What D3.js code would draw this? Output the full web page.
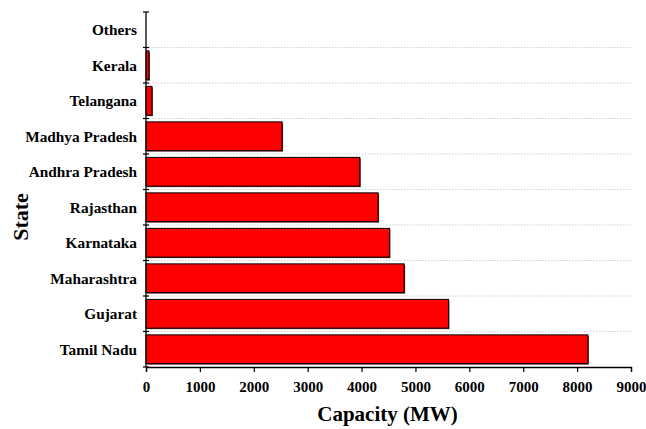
<!DOCTYPE html>
<html>
<head>
<meta charset="utf-8">
<script src="https://cdn.jsdelivr.net/npm/d3@7"></script>
<style>
  body { margin: 0; background: #fff; }
  svg text { font-family: "Liberation Serif", "Times New Roman", serif; font-weight: bold; fill: #000; }
</style>
</head>
<body>
<svg></svg>
<script>
// states from top to bottom, capacity in MW
const states = ["Others", "Kerala", "Telangana", "Madhya Pradesh", "Andhra Pradesh",
  "Rajasthan", "Karnataka", "Maharashtra", "Gujarat", "Tamil Nadu"];
const capacity = [0, 55, 110, 2525, 3967, 4307, 4518, 4790, 5613, 8200];
const xTicks = [0, 1000, 2000, 3000, 4000, 5000, 6000, 7000, 8000, 9000];

const width = 646;
const height = 429;
const margin = { top: 12, right: 15, bottom: 62, left: 146 };
const plotW = width - margin.left - margin.right;
const plotH = height - margin.top - margin.bottom;

const data = states.map((s, i) => ({ state: s, value: capacity[i] }));

const svg = d3.select("svg").attr("width", width).attr("height", height);
const g = svg.append("g").attr("transform", "translate(" + margin.left + "," + margin.top + ")");

const x = d3.scaleLinear().domain([0, 9000]).range([0, plotW]);
const y = d3.scaleBand().domain(states).range([0, plotH]).paddingInner(0.19).paddingOuter(0.095);
const step = y.step();

// boundaries between categories
const bounds = d3.range(states.length + 1).map((i) => i * step);

// dotted gridlines
g.selectAll(".grid")
  .data(bounds.slice(1, -1))
  .enter()
  .append("line")
  .attr("x1", 0)
  .attr("x2", plotW)
  .attr("y1", (d) => d)
  .attr("y2", (d) => d)
  .attr("stroke", "#cfcfcf")
  .attr("stroke-width", 1)
  .attr("stroke-dasharray", "1.5,1.5");

// bars (dark shadow + red fill)
g.selectAll(".shadow")
  .data(data.filter((d) => d.value > 0))
  .enter()
  .append("rect")
  .attr("x", 1)
  .attr("y", (d) => y(d.state) + 1)
  .attr("width", (d) => x(d.value))
  .attr("height", y.bandwidth())
  .attr("fill", "#7a3030");

g.selectAll(".bar")
  .data(data.filter((d) => d.value > 0))
  .enter()
  .append("rect")
  .attr("x", 0)
  .attr("y", (d) => y(d.state))
  .attr("width", (d) => x(d.value))
  .attr("height", y.bandwidth())
  .attr("fill", "#ff0000")
  .attr("stroke", "#000")
  .attr("stroke-width", 1);

// x axis with major and minor ticks
const xAxis = g.append("g").attr("transform", "translate(0," + plotH + ")");
xAxis.call(d3.axisBottom(x).tickValues(d3.range(0, 9001, 200)).tickSize(3).tickFormat(""))
  .call((a) => a.select(".domain").remove());
xAxis.call(d3.axisBottom(x).tickValues(xTicks).tickSize(5).tickPadding(9).tickFormat(d3.format("d")));
xAxis.selectAll("line").attr("stroke", "#000").attr("stroke-width", 1.2);
xAxis.selectAll(".domain").attr("stroke", "#000").attr("stroke-width", 1.3);
xAxis.selectAll("text").style("font-size", "15px");

// y axis line and boundary ticks
g.append("line")
  .attr("x1", 0).attr("x2", 0)
  .attr("y1", 0).attr("y2", plotH)
  .attr("stroke", "#000").attr("stroke-width", 1.3);

g.selectAll(".ytick")
  .data(bounds)
  .enter()
  .append("line")
  .attr("x1", -3)
  .attr("x2", 3)
  .attr("y1", (d) => d)
  .attr("y2", (d) => d)
  .attr("stroke", "#000")
  .attr("stroke-width", 1.2);

// category labels
g.selectAll(".ylabel")
  .data(states)
  .enter()
  .append("text")
  .attr("x", -9)
  .attr("y", (d) => y(d) + y.bandwidth() / 2)
  .attr("dy", "0.35em")
  .attr("text-anchor", "end")
  .style("font-size", "15.3px")
  .text((d) => d);

// axis titles
svg.append("text")
  .attr("text-anchor", "middle")
  .attr("x", margin.left + plotW / 2 - 1)
  .attr("y", 421)
  .style("font-size", "21px")
  .text("Capacity (MW)");

svg.append("text")
  .attr("text-anchor", "middle")
  .attr("transform", "rotate(-90)")
  .attr("x", -217)
  .attr("y", 28)
  .style("font-size", "22px")
  .text("State");
</script>
</body>
</html>
